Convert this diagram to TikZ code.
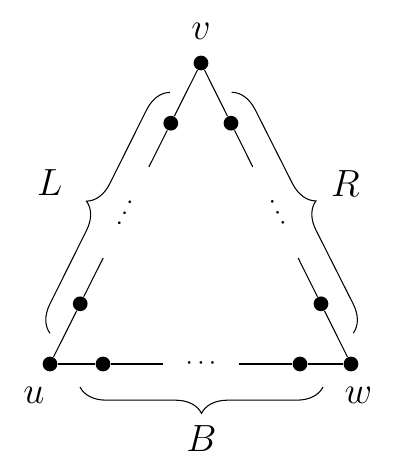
\documentclass[tikz,border=0pt]{standalone}
\usetikzlibrary{decorations.pathreplacing,calc}
\begin{document}
\begin{tikzpicture}[x=0.38pt,y=-0.38pt,
  vtx/.style={circle,fill=black,inner sep=0pt,minimum size=5.6pt},
  lbl/.style={inner sep=0pt,font=\Large},
  edgeline/.style={line width=0.4pt},
  brc/.style={decorate,decoration={brace,amplitude=10pt},line width=0.4pt},
  dotsnode/.style={inner sep=0pt}]
\useasboundingbox (0,0) rectangle (405,470);
% vertices
\node[vtx] (v) at (201,63) {};
\node[vtx] (u) at (50,364) {};
\node[vtx] (w) at (351,364) {};
\node[vtx] (l1) at ($(v)!0.2!(u)$) {};
\node[vtx] (l2) at ($(v)!0.8!(u)$) {};
\node[vtx] (r1) at ($(v)!0.2!(w)$) {};
\node[vtx] (r2) at ($(v)!0.8!(w)$) {};
\node[vtx] (b1) at (103,364) {};
\node[vtx] (b2) at (300,364) {};
% segment ends
\coordinate (le1) at ($(v)!0.345!(u)$);
\coordinate (le2) at ($(v)!0.648!(u)$);
\coordinate (re1) at ($(v)!0.345!(w)$);
\coordinate (re2) at ($(v)!0.648!(w)$);
\coordinate (be1) at (162.7,364);
\coordinate (be2) at (239,364);
% edges
\draw[edgeline] (v) -- (l1) -- (le1);
\draw[edgeline] (le2) -- (l2) -- (u);
\draw[edgeline] (v) -- (r1) -- (re1);
\draw[edgeline] (re2) -- (r2) -- (w);
\draw[edgeline] (u) -- (b1) -- (be1);
\draw[edgeline] (be2) -- (b2) -- (w);
% dots
\node[dotsnode,rotate=63.4] (dl) at (125.7,213.3) {$\vcenter{\hbox{$\cdots$}}$};
\node[dotsnode,rotate=-63.4] (dr) at (276.7,213) {$\vcenter{\hbox{$\cdots$}}$};
\node[dotsnode] (db) at (201,364) {$\vcenter{\hbox{$\cdots$}}$};
% braces
\coordinate (bl1) at (50,333.3);
\coordinate (bl2) at (170,92.3);
\coordinate (br1) at (231.7,92.3);
\coordinate (br2) at (353.3,333.3);
\coordinate (bb1) at (323,387);
\coordinate (bb2) at (80,387);
\draw[brc] (bl1) -- (bl2);
\draw[brc] (br1) -- (br2);
\draw[brc] (bb1) -- (bb2);
% labels
\node[lbl] (lv) at (201,31) {$v$};
\node[lbl] (lu) at (34,395) {$u$};
\node[lbl] (lw) at (358.3,395) {$w$};
\node[lbl] (lL) at (49.7,183) {$L$};
\node[lbl] (lR) at (345.5,183.3) {$R$};
\node[lbl] (lB) at (201.5,439) {$B$};
\end{tikzpicture}
\end{document}
